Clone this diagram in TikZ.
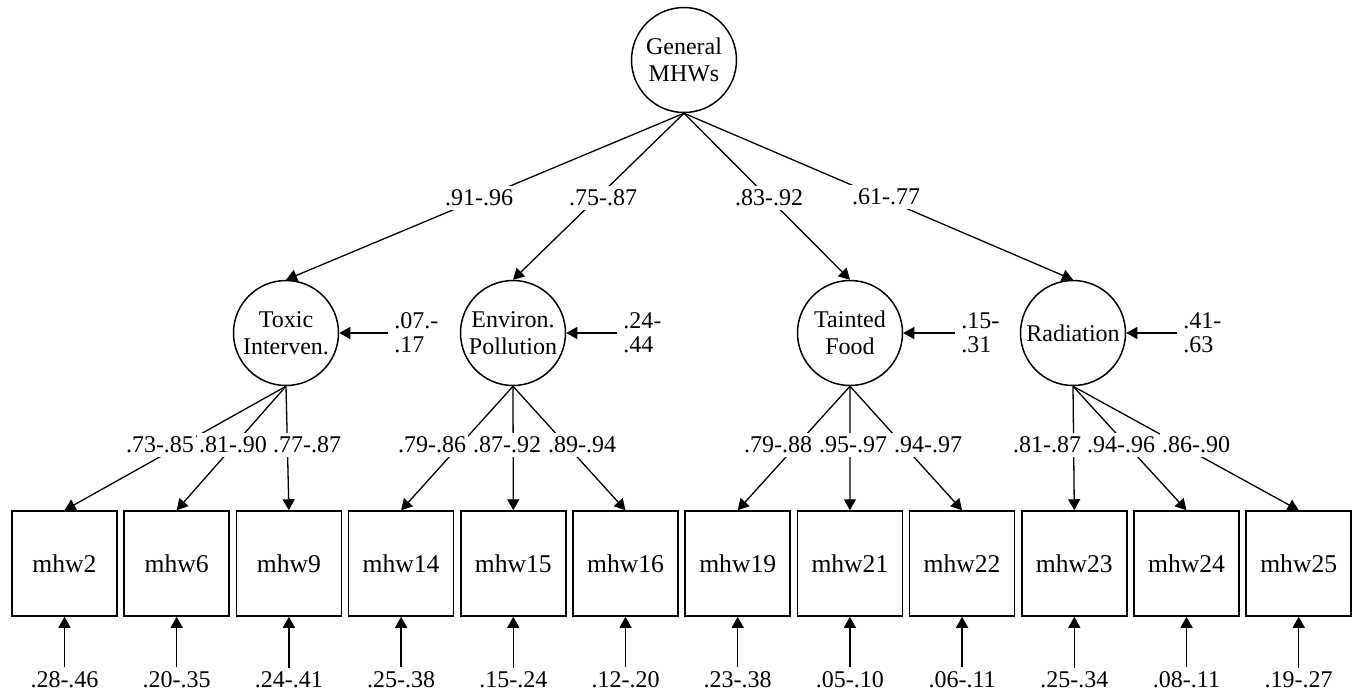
\documentclass[tikz,border=0pt]{standalone}
\usepackage{fontspec}
\setmainfont{Liberation Serif}
\usetikzlibrary{arrows.meta,calc}
\begin{document}
\begin{tikzpicture}[x=0.5pt,y=-0.5pt,
  lat/.style={circle,draw,line width=0.75pt,minimum size=52.5pt,inner sep=0pt,align=center,font=\fontsize{12}{13.5}\selectfont},
  obs/.style={rectangle,draw,line width=0.75pt,minimum width=52.5pt,minimum height=52.5pt,inner sep=0pt,font=\fontsize{12.8}{14}\selectfont},
  lbl/.style={fill=white,inner xsep=1pt,inner ysep=2pt,font=\fontsize{12}{12}\selectfont},
  res/.style={inner xsep=3pt,inner ysep=1pt,align=left,anchor=west,font=\fontsize{12}{12}\selectfont},
  err/.style={inner xsep=1pt,inner ysep=2pt,font=\fontsize{12}{12}\selectfont},
  arr/.style={line width=0.65pt,-{Triangle[length=5.5pt,width=6pt]}}
]
\useasboundingbox (0,0) rectangle (1354,692);

% latent variables
\node[lat] (gen) at (684,60) {General\\MHWs};
\node[lat] (tox) at (286,333) {Toxic\\Interven.};
\node[lat] (env) at (513,333) {Environ.\\Pollution};
\node[lat] (tai) at (850,333) {Tainted\\Food};
\node[lat] (rad) at (1073,333) {Radiation};

% observed variables and their error terms
\foreach \t [count=\i from 0] in {mhw2,mhw6,mhw9,mhw14,mhw15,mhw16,mhw19,mhw21,mhw22,mhw23,mhw24,mhw25}
  \node[obs] (b\i) at ({64.5+112.2*\i},563.5) {\t};
\foreach \v [count=\i from 0] in {.28-.46,.20-.35,.24-.41,.25-.38,.15-.24,.12-.20,.23-.38,.05-.10,.06-.11,.25-.34,.08-.11,.19-.27}
{
  \node[err] (e\i) at ({64.5+112.2*\i},680) {\v};
  \draw[arr] (e\i.north) -- (b\i.south);
}

% second-order loadings
\draw[arr] (gen.south) -- (tox.north);
\draw[arr] (gen.south) -- (env.north);
\draw[arr] (gen.south) -- (tai.north);
\draw[arr] (gen.south) -- (rad.north);

% first-order loadings
\draw[arr] (tox.south) -- (b0.north);
\draw[arr] (tox.south) -- (b1.north);
\draw[arr] (tox.south) -- (b2.north);
\draw[arr] (env.south) -- (b3.north);
\draw[arr] (env.south) -- (b4.north);
\draw[arr] (env.south) -- (b5.north);
\draw[arr] (tai.south) -- (b6.north);
\draw[arr] (tai.south) -- (b7.north);
\draw[arr] (tai.south) -- (b8.north);
\draw[arr] (rad.south) -- (b9.north);
\draw[arr] (rad.south) -- (b10.north);
\draw[arr] (rad.south) -- (b11.north);

% disturbances of latent factors
\node[res] (rtox) at (388,333) {.07.-\\.17};
\node[res] (renv) at (617,333) {.24-\\.44};
\node[res] (rtai) at (955,333) {.15-\\.31};
\node[res] (rrad) at (1177,333) {.41-\\.63};
\draw[arr] (rtox.west) -- (tox.east);
\draw[arr] (renv.west) -- (env.east);
\draw[arr] (rtai.west) -- (tai.east);
\draw[arr] (rrad.west) -- (rad.east);

% loading labels (upper)
\node[lbl] (l1) at (479,198) {.91-.96};
\node[lbl] (l2) at (603,198) {.75-.87};
\node[lbl] (l3) at (769,198) {.83-.92};
\node[lbl] (l4) at (886,197) {.61-.77};

% loading labels (lower)
\node[lbl] (k0) at (160,445) {.73-.85};
\node[lbl] (k1) at (233,445) {.81-.90};
\node[lbl] (k2) at (307,445) {.77-.87};
\node[lbl] (k3) at (432,445) {.79-.86};
\node[lbl] (k4) at (507,445) {.87-.92};
\node[lbl] (k5) at (582,445) {.89-.94};
\node[lbl] (k6) at (778,445) {.79-.88};
\node[lbl] (k7) at (853,445) {.95-.97};
\node[lbl] (k8) at (928,445) {.94-.97};
\node[lbl] (k9) at (1047,445) {.81-.87};
\node[lbl] (k10) at (1121,445) {.94-.96};
\node[lbl] (k11) at (1196,445) {.86-.90};
\end{tikzpicture}
\end{document}
